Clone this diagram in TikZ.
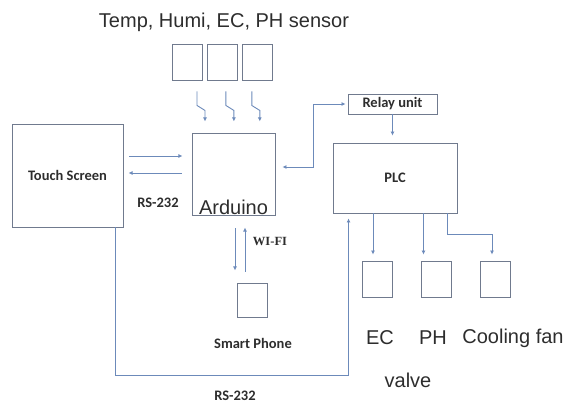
\documentclass[tikz,border=0pt]{standalone}
\usepackage{fontspec}
\setmainfont{Liberation Sans}
\newfontfamily\lblfont{Carlito}
\newfontfamily\wififont{Liberation Serif}
\usepackage{tikz}
\usetikzlibrary{arrows.meta, positioning}
\definecolor{boxline}{RGB}{112,122,142}
\definecolor{arrline}{RGB}{108,138,186}
\definecolor{txt}{RGB}{45,45,45}

\begin{document}
\begin{tikzpicture}[x=1pt, y=-1pt,
  box/.style={draw=boxline, line width=0.9pt, inner sep=0pt},
  unit/.style={box, minimum width=30pt, minimum height=36pt},
  arrow/.style={draw=arrline, line width=0.9pt, -{Latex[length=4pt,width=4pt]}},
  dblarrow/.style={arrow, {Latex[length=4pt,width=4pt]}-{Latex[length=4pt,width=4pt]}},
  lbl/.style={font=\lblfont\bfseries\fontsize{14.5}{16}\selectfont, text=txt},
  devtext/.style={font=\fontsize{20}{22}\selectfont, text=txt},
]
\useasboundingbox (0,0) rectangle (571,403);

% sensors on top
\node[devtext] (title) at (224,22) {Temp, Humi, EC, PH sensor};
\node[unit] (s1) at (187,62) {};
\node[unit, right=5pt of s1] (s2) {};
\node[unit, right=4pt of s2] (s3) {};

% main units
\node[box, lbl, minimum width=111pt, minimum height=103pt] (touch) at (67.5,175.5) {Touch Screen};
\node[box, minimum width=83pt, minimum height=82pt,
      label={[devtext, anchor=south, inner sep=1pt]south:Arduino}] (ard) at (233.5,174) {};
\node[box, lbl, minimum width=89pt, minimum height=20pt] (relay) at (392.5,104) {Relay unit};
\node[box, lbl, minimum width=124pt, minimum height=70pt] (plc) at (395,178) {PLC};
\node[box, minimum width=30pt, minimum height=34pt] (phone) at (252,300) {};

% outputs of the PLC
\node[unit] (ec)  at (377,279) {};
\node[unit] (ph)  at (436.5,279) {};
\node[unit] (fan) at (495,279) {};

% labels
\node[lbl] (phonelbl) at (253,343) {Smart Phone};
\node[lbl] (rsa) at (158,203) {RS-232};
\node[lbl] (rsb) at (235,396) {RS-232};
\node[font=\wififont\bfseries\fontsize{12.5}{14}\selectfont, text=txt] (wifi) at (270,242) {WI-FI};
\node[devtext] (eclbl)  at (380,338) {EC};
\node[devtext] (phlbl)  at (433,338) {PH};
\node[devtext] (fanlbl) at (513,338) {Cooling fan};
\node[devtext] (valve)  at (408,380) {valve};

% sensor signals
\foreach \s/\dx in {s1/10, s2/3, s3/-6}
  \draw[arrow] ([shift={(\dx,11)}]\s.south) -- ++(0,14) -- ++(8,5) -- ++(0,11);

% touch screen <-> arduino
\draw[arrow] ([shift={(6,-19.5)}]touch.east) -- ++(53,0);
\draw[arrow] ([shift={(-10,-1)}]ard.west) -- ++(-53,0);

% arduino <-> relay -> plc
\draw[dblarrow] ([shift={(7,-7)}]ard.east) -- ++(31,0) |- ([xshift=-2pt]relay.west);
\draw[arrow, shorten >=7pt] (relay.south) -- (relay.south |- plc.north);

% plc outputs
\draw[arrow] ([xshift=-4pt]ec.north |- plc.south) -- ([shift={(-4,-6)}]ec.north);
\draw[arrow] ([xshift=-13pt]ph.north |- plc.south) -- ([shift={(-13,-6)}]ph.north);
\draw[arrow] ([xshift=-10pt]plc.south east) -- ++(0,21) -| ([shift={(-3,-6)}]fan.north);

% wifi link
\draw[arrow] ([shift={(1.5,13)}]ard.south) -- ++(0,42);
\draw[arrow] ([shift={(-7,-11)}]phone.north) -- ++(0,-44);

% touch screen -> plc
\draw[arrow] ([xshift=-8pt]touch.south east) -- ++(0,148) -| ([shift={(16,5)}]plc.south west);
\end{tikzpicture}
\end{document}
